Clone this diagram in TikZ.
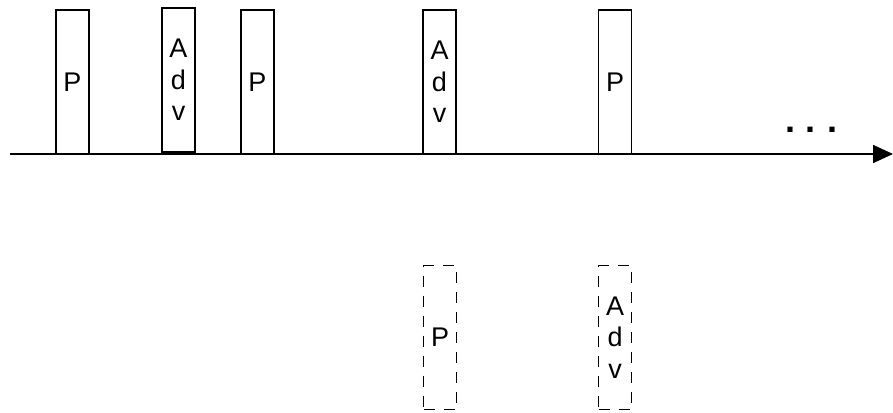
\documentclass[tikz,border=0pt]{standalone}
\usepackage{fontspec}
\setmainfont{Liberation Sans}
\usetikzlibrary{arrows.meta}

\begin{document}
\begin{tikzpicture}[x=1pt, y=-1pt,
    pkt/.style={draw, line width=1.5pt, minimum width=33pt, minimum height=144pt, inner sep=0pt, align=center, font=\fontsize{27}{31.5}\selectfont},
    ghost/.style={pkt, dash pattern=on 11pt off 9pt}]
    \useasboundingbox (0,0) rectangle (893,412);
    \coordinate (T0) at (10,154);
    \coordinate (T1) at (893,154);
    \draw[line width=1.6pt, -{Triangle[length=20pt, width=18pt]}] (T0) -- (T1);
    \node[pkt] (P1) at (72.5,82) {P};
    \node[pkt] (A1) at (178.5,80) {A\\d\\v};
    \node[pkt] (P2) at (257.5,82) {P};
    \node[pkt] (A2) at (439.5,82) {A\\d\\v};
    \node[pkt] (P3) at (615,82) {P};
    \node[font=\fontsize{36}{36}\selectfont\bfseries, inner sep=0pt] (dots) at (811,130) {.\hspace{11pt}.\hspace{11pt}.};
    % alternative order
    \node[ghost] (P4) at (440,337.5) {P};
    \node[ghost] (A3) at (615,337.5) {A\\d\\v};
\end{tikzpicture}
\end{document}
